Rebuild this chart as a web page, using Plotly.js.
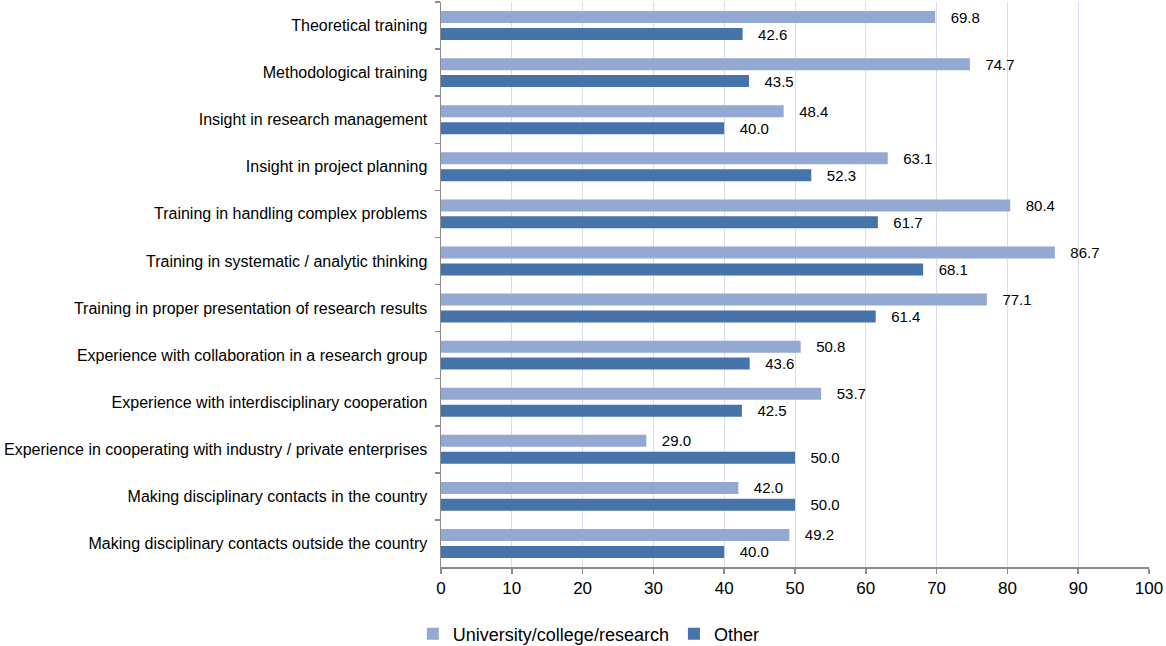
<!DOCTYPE html>
<html>
<head>
<meta charset="utf-8">
<script src="https://cdn.plot.ly/plotly-3.0.1.min.js"></script>
<style>
  html, body { margin: 0; padding: 0; background: #ffffff; }
  #chart { width: 1166px; height: 646px; }
</style>
</head>
<body>
<div id="chart"></div>
<script>
// Skills acquired during the PhD, share of respondents (%) by current sector
const categories = [
  "Theoretical training",
  "Methodological training",
  "Insight in research management",
  "Insight in project planning",
  "Training in handling complex problems",
  "Training in systematic / analytic thinking",
  "Training in proper presentation of research results",
  "Experience with collaboration in a research group",
  "Experience with interdisciplinary cooperation",
  "Experience in cooperating with industry / private enterprises",
  "Making disciplinary contacts in the country",
  "Making disciplinary contacts outside the country"
];
const universityValues = [69.8, 74.7, 48.4, 63.1, 80.4, 86.7, 77.1, 50.8, 53.7, 29.0, 42.0, 49.2];
const otherValues      = [42.6, 43.5, 40.0, 52.3, 61.7, 68.1, 61.4, 43.6, 42.5, 50.0, 50.0, 40.0];
const seriesNames = ["University/college/research", "Other"];
const xTicks = [0, 10, 20, 30, 40, 50, 60, 70, 80, 90, 100];

const fontFamily = '"Liberation Sans", Arial, sans-serif';
const pad = "\u00a0\u00a0\u00a0";

function barTrace(name, values, color) {
  return {
    type: "bar",
    orientation: "h",
    name: name,
    y: categories,
    x: values,
    marker: { color: color, line: { width: 0 } },
    text: values.map(v => pad + v.toFixed(1)),
    textposition: "outside",
    constraintext: "none",
    textfont: { family: fontFamily, size: 15, color: "#000000" },
    cliponaxis: false,
    hoverinfo: "skip"
  };
}

const data = [
  barTrace(seriesNames[0], universityValues, "#94a9d2"),
  barTrace(seriesNames[1], otherValues, "#4673a9")
];

const layout = {
  width: 1166,
  height: 646,
  paper_bgcolor: "#ffffff",
  plot_bgcolor: "#ffffff",
  margin: { l: 441, r: 17, t: 2, b: 79 },
  barmode: "group",
  bargap: 0.28,
  bargroupgap: 0.29,
  font: { family: fontFamily, color: "#000000" },
  showlegend: true,
  legend: {
    orientation: "h",
    xref: "container",
    yref: "container",
    x: 0.505,
    xanchor: "center",
    y: 0.0186,
    yanchor: "middle",
    font: { family: fontFamily, size: 18, color: "#000000" },
    itemclick: false,
    traceorder: "normal"
  },
  xaxis: {
    range: [0, 100],
    tickvals: xTicks,
    ticktext: xTicks.map(String),
    tickfont: { family: fontFamily, size: 17, color: "#000000" },
    showgrid: true,
    gridcolor: "#d6dff0",
    gridwidth: 1,
    zeroline: false,
    showline: true,
    linecolor: "#8c8c8c",
    linewidth: 1.5,
    ticks: "outside",
    ticklen: 5,
    tickcolor: "#8c8c8c",
    tickwidth: 1.5,
    fixedrange: true
  },
  yaxis: {
    type: "category",
    autorange: "reversed",
    tickson: "boundaries",
    ticks: "outside",
    ticklen: 5,
    tickcolor: "#8c8c8c",
    tickwidth: 1.5,
    showline: true,
    linecolor: "#8c8c8c",
    linewidth: 1.5,
    showgrid: false,
    ticklabelstandoff: 9,
    tickfont: { family: fontFamily, size: 16, color: "#000000" },
    fixedrange: true
  }
};

Plotly.newPlot("chart", data, layout, { displayModeBar: false, staticPlot: true });
</script>
</body>
</html>
